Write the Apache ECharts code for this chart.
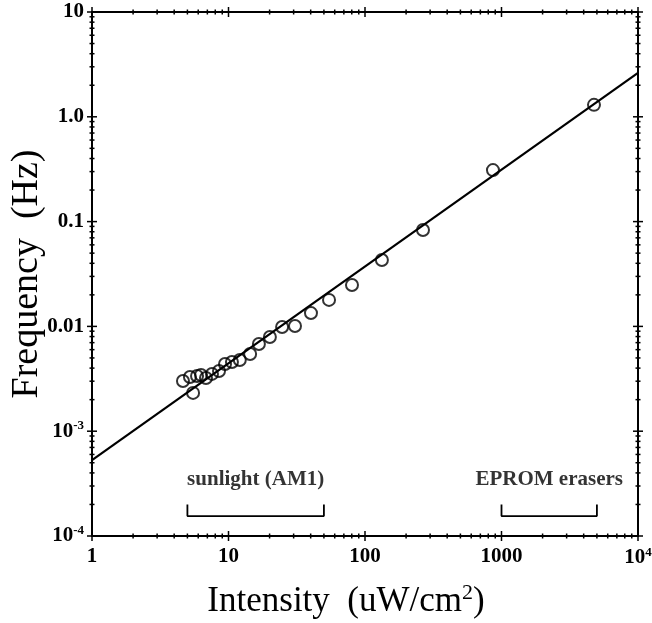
<!DOCTYPE html>
<html>
<head>
<meta charset="utf-8">
<script src="https://cdn.jsdelivr.net/npm/echarts@6/dist/echarts.min.js"></script>
<style>
  html, body { margin: 0; padding: 0; background: #fff; }
  #chart { width: 652px; height: 623px; }
</style>
</head>
<body>
<div id="chart"></div>
<script>
// Measured points: light intensity (uW/cm^2) vs. oscillation frequency (Hz)
const intensity = [4.64, 5.22, 5.50, 5.88, 6.29, 6.84, 7.57, 8.52, 9.43, 10.6, 12.1, 14.4,
                   16.7, 20.1, 24.7, 30.7, 40.2, 54.5, 80.3, 133, 266, 866, 4760];
const frequency = [3.01e-3, 3.29e-3, 2.32e-3, 3.36e-3, 3.44e-3, 3.22e-3, 3.52e-3, 3.75e-3,
                   4.38e-3, 4.57e-3, 4.78e-3, 5.46e-3, 6.79e-3, 7.92e-3, 9.86e-3, 1.01e-2,
                   1.34e-2, 1.79e-2, 2.48e-2, 4.30e-2, 8.31e-2, 0.310, 1.30];

// Power-law fit line, evaluated at the axis ends
const fitIntensity = [1, 10000];
const fitFrequency = [5.3e-4, 2.62];

// Intensity ranges of typical light sources
const sourceNames = ['sunlight (AM1)', 'EPROM erasers'];
const sourceRanges = [[5, 50], [1000, 5000]];
const bracketLow = 1.55e-4;
const bracketHigh = 2.0e-4;

// Tick labels
const xTickExp = [0, 1, 2, 3, 4];
const xTickLabels = ['1', '10', '100', '1000', '10{sup|4}'];
const yTickExp = [-4, -3, -2, -1, 0, 1];
const yTickLabels = ['10{sup|-4}', '10{sup|-3}', '0.01', '0.1', '1.0', '10'];

const X_MIN = 1, X_MAX = 10000, Y_MIN = 1e-4, Y_MAX = 10;
const SERIF = '"Liberation Serif", "DejaVu Serif", serif';

function labelFor(exps, labels) {
  return function (v) {
    const e = Math.round(Math.log10(v));
    const i = exps.indexOf(e);
    return i >= 0 ? labels[i] : '';
  };
}

// Decade and 2..9 sub-decade tick values
function logTicks(minExp, maxExp) {
  const out = [];
  for (let e = minExp; e <= maxExp; e++) {
    const base = Math.pow(10, e);
    out.push([base, 1]);
    if (e < maxExp) for (let m = 2; m <= 9; m++) out.push([m * base, 0]);
  }
  return out;
}
const xTicks = logTicks(0, 4);
const yTicks = logTicks(-4, 1);

const tickStyle = { stroke: '#000', lineWidth: 1.5 };

function xTickItem(params, api) {
  const rect = params.coordSys;
  const px = api.coord([api.value(0), Y_MIN])[0];
  const h = api.value(1) ? 5 : 2.5;
  const yb = rect.y + rect.height, yt = rect.y;
  return {
    type: 'group',
    children: [
      { type: 'line', shape: { x1: px, y1: yb - h, x2: px, y2: yb + h }, style: tickStyle },
      { type: 'line', shape: { x1: px, y1: yt - h, x2: px, y2: yt + h }, style: tickStyle }
    ]
  };
}
function yTickItem(params, api) {
  const rect = params.coordSys;
  const py = api.coord([X_MIN, api.value(0)])[1];
  const w = api.value(1) ? 5 : 2.5;
  const xl = rect.x, xr = rect.x + rect.width;
  return {
    type: 'group',
    children: [
      { type: 'line', shape: { x1: xl - w, y1: py, x2: xl + w, y2: py }, style: tickStyle },
      { type: 'line', shape: { x1: xr - w, y1: py, x2: xr + w, y2: py }, style: tickStyle }
    ]
  };
}

const bracketSeries = sourceRanges.map(function (r) {
  return {
    type: 'line',
    data: [[r[0], bracketHigh], [r[0], bracketLow], [r[1], bracketLow], [r[1], bracketHigh]],
    symbol: 'none',
    lineStyle: { color: '#000', width: 1.8 },
    silent: true,
    z: 3
  };
});

const bracketLabels = {
  type: 'scatter',
  data: sourceRanges.map(function (r, i) {
    return { value: [Math.sqrt(r[0] * r[1]), bracketHigh], name: sourceNames[i] };
  }),
  symbolSize: 0,
  label: {
    show: true,
    position: 'top',
    distance: 14,
    formatter: '{b}',
    fontFamily: SERIF,
    fontSize: 21,
    fontWeight: 'bold',
    color: '#000'
  },
  silent: true
};

const chart = echarts.init(document.getElementById('chart'));
chart.setOption({
  backgroundColor: '#fff',
  animation: false,
  grid: { left: 92, right: 14, top: 12, bottom: 87, outerBoundsMode: 'none', containLabel: false },
  xAxis: [{
    type: 'log', min: X_MIN, max: X_MAX, logBase: 10,
    name: 'Intensity  (uW/cm{sup|2})',
    nameLocation: 'middle', nameGap: 46, nameMoveOverlap: false,
    nameTextStyle: {
      fontFamily: SERIF, fontSize: 35, color: '#000', padding: [0, 38, 0, 0],
      rich: { sup: { fontFamily: SERIF, fontSize: 22, color: '#000', verticalAlign: 'top', padding: [0, 0, 18, 0] } }
    },
    axisLine: { lineStyle: { color: '#000', width: 2 } },
    axisTick: { show: false },
    splitLine: { show: false },
    axisLabel: {
      formatter: labelFor(xTickExp, xTickLabels), margin: 10,
      fontFamily: SERIF, fontSize: 21, fontWeight: 'bold', color: '#000',
      rich: { sup: { fontFamily: SERIF, fontSize: 13, fontWeight: 'bold', color: '#000', padding: [0, 0, 11, 0] } }
    }
  }, {
    type: 'log', min: X_MIN, max: X_MAX, logBase: 10, position: 'top',
    axisLine: { lineStyle: { color: '#000', width: 2 } },
    axisTick: { show: false }, axisLabel: { show: false }, splitLine: { show: false }
  }],
  yAxis: [{
    type: 'log', min: Y_MIN, max: Y_MAX, logBase: 10,
    name: 'Frequency  (Hz)',
    nameLocation: 'middle', nameRotate: 90, nameGap: 46, nameMoveOverlap: false,
    nameTextStyle: { fontFamily: SERIF, fontSize: 38, color: '#000' },
    axisLine: { lineStyle: { color: '#000', width: 2 } },
    axisTick: { show: false },
    splitLine: { show: false },
    axisLabel: {
      formatter: labelFor(yTickExp, yTickLabels), margin: 8,
      fontFamily: SERIF, fontSize: 21, fontWeight: 'bold', color: '#000',
      rich: { sup: { fontFamily: SERIF, fontSize: 13, fontWeight: 'bold', color: '#000', padding: [0, 0, 11, 0] } }
    }
  }, {
    type: 'log', min: Y_MIN, max: Y_MAX, logBase: 10, position: 'right',
    axisLine: { lineStyle: { color: '#000', width: 2 } },
    axisTick: { show: false }, axisLabel: { show: false }, splitLine: { show: false }
  }],
  series: [
    {
      type: 'custom', renderItem: xTickItem, data: xTicks,
      encode: { x: 0 }, clip: false, silent: true, z: 5
    },
    {
      type: 'custom', renderItem: yTickItem, data: yTicks,
      encode: { y: 0 }, clip: false, silent: true, z: 5
    },
    {
      type: 'line',
      data: fitIntensity.map(function (x, i) { return [x, fitFrequency[i]]; }),
      symbol: 'none',
      lineStyle: { color: '#000', width: 2.2 },
      silent: true,
      z: 2
    },
    {
      type: 'scatter',
      data: intensity.map(function (x, i) { return [x, frequency[i]]; }),
      symbol: 'circle',
      symbolSize: 12,
      itemStyle: { color: 'rgba(255,255,255,0)', borderColor: '#000', borderWidth: 2 },
      z: 4
    }
  ].concat(bracketSeries, [bracketLabels])
});
</script>
</body>
</html>
